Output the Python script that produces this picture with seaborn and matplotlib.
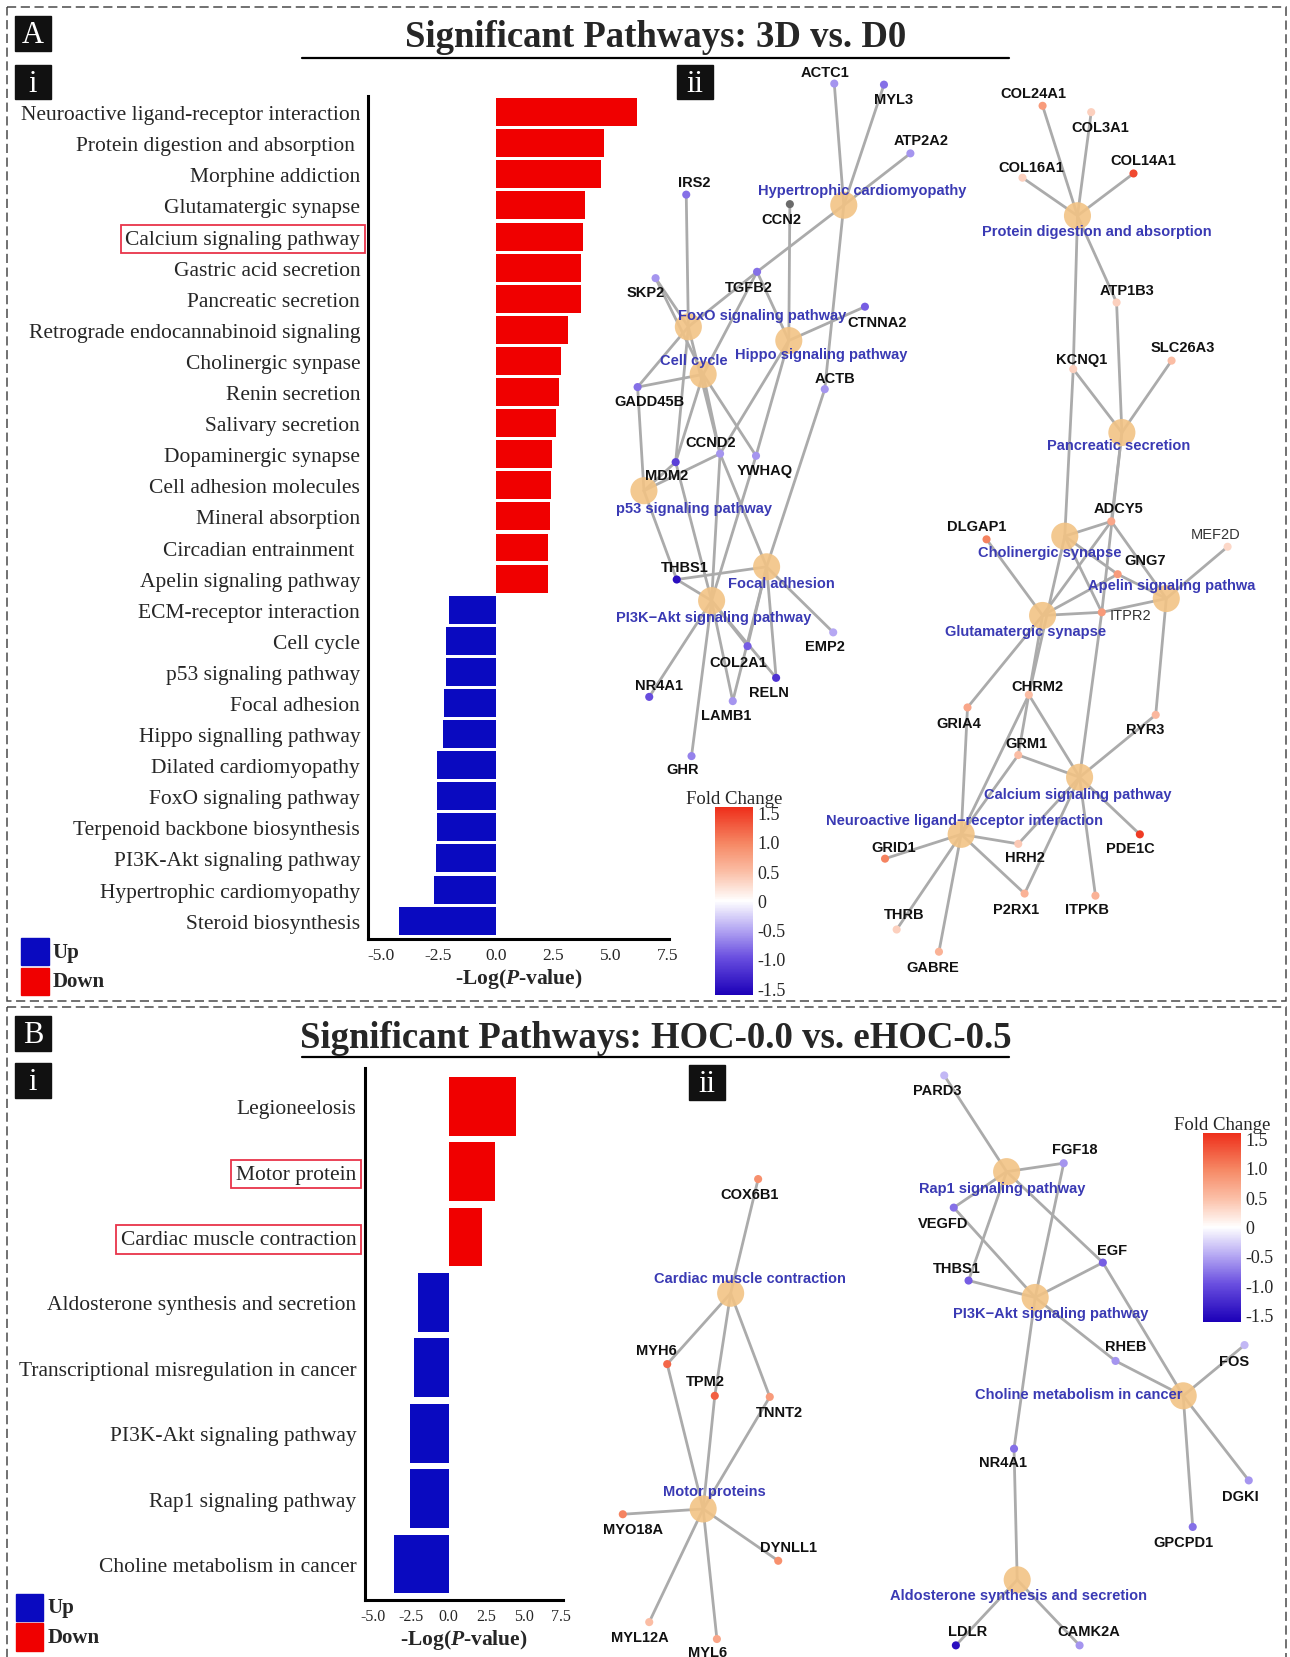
import numpy as np
import pandas as pd
import matplotlib
matplotlib.use("Agg")
import matplotlib.pyplot as plt
from matplotlib.colors import LinearSegmentedColormap, Normalize
from matplotlib.cm import ScalarMappable
from matplotlib.patches import Rectangle
import seaborn as sns

sns.set_style("white")
plt.rcParams["font.family"] = ["Liberation Serif", "DejaVu Serif"]
plt.rcParams["mathtext.fontset"] = "custom"
plt.rcParams["mathtext.rm"] = "Liberation Serif"
plt.rcParams["mathtext.it"] = "Liberation Serif:italic"
plt.rcParams["mathtext.bf"] = "Liberation Serif:bold"
plt.rcParams["mathtext.bfit"] = "Liberation Serif:bold:italic"

SANS = ["Liberation Sans", "DejaVu Sans"]
RED = "#f00000"
BLUE = "#0a0ac0"
NODE_TAN = "#f2c385"
EDGE_GREY = "#ababab"
PATH_BLUE = "#3a3ab4"

# ---------------- panel A: bar data ----------------
A_PATHWAYS = [
    "Neuroactive ligand-receptor interaction", "Protein digestion and absorption ",
    "Morphine addiction", "Glutamatergic synapse", "Calcium signaling pathway",
    "Gastric acid secretion", "Pancreatic secretion", "Retrograde endocannabinoid signaling",
    "Cholinergic synpase", "Renin secretion", "Salivary secretion", "Dopaminergic synapse",
    "Cell adhesion molecules", "Mineral absorption", "Circadian entrainment ",
    "Apelin signaling pathway", "ECM-receptor interaction", "Cell cycle",
    "p53 signaling pathway", "Focal adhesion", "Hippo signalling pathway",
    "Dilated cardiomyopathy", "FoxO signaling pathway", "Terpenoid backbone biosynthesis",
    "PI3K-Akt signaling pathway", "Hypertrophic cardiomyopathy", "Steroid biosynthesis",
]
A_LOGP = [6.15, 4.70, 4.61, 3.90, 3.81, 3.72, 3.72, 3.13, 2.86, 2.77, 2.62, 2.44, 2.41,
          2.37, 2.26, 2.26, -2.06, -2.15, -2.15, -2.26, -2.31, -2.57, -2.57, -2.57,
          -2.60, -2.68, -4.20]
A_DIRECTION = ["Down"] * 16 + ["Up"] * 11
A_BOXED = ["Calcium signaling pathway"]

# ---------------- panel B: bar data ----------------
B_PATHWAYS = [
    "Legioneelosis", "Motor protein", "Cardiac muscle contraction",
    "Aldosterone synthesis and secretion", "Transcriptional misregulation in cancer",
    "PI3K-Akt signaling pathway", "Rap1 signaling pathway", "Choline metabolism in cancer",
]
B_LOGP = [4.53, 3.09, 2.21, -2.04, -2.27, -2.54, -2.60, -3.65]
B_DIRECTION = ["Down"] * 3 + ["Up"] * 5
B_BOXED = ["Motor protein", "Cardiac muscle contraction"]

# ---------------- panel A: network (layout) ----------------
A_PW = ["Hypertrophic cardiomyopathy", "FoxO signaling pathway", "Hippo signaling pathway",
        "Cell cycle", "p53 signaling pathway", "Focal adhesion", "PI3K\u2212Akt signaling pathway",
        "Protein digestion and absorption", "Pancreatic secretion", "Cholinergic synapse",
        "Apelin signaling pathwa", "Glutamatergic synapse", "Calcium signaling pathway",
        "Neuroactive ligand\u2212receptor interaction"]
A_PW_X = [798, 651, 746, 665, 609, 725, 673, 1019, 1061, 1007, 1103, 986, 1021, 909]
A_PW_Y = [195, 310, 323, 355, 465, 537, 569, 205, 410, 508, 567, 583, 736, 790]
A_PW_LX = [815, 721, 777, 656, 656, 739, 675, 1037, 1058, 993, 1108, 970, 1019, 912]
A_PW_LY = [181, 299, 336, 341, 481, 552, 584, 219, 422, 523, 554, 598, 752, 776]

A_GENE = ["ACTC1", "MYL3", "ATP2A2", "IRS2", "CCN2", "TGFB2", "SKP2", "CTNNA2", "ACTB",
          "GADD45B", "CCND2", "MDM2", "YWHAQ", "THBS1", "EMP2", "COL2A1", "RELN", "NR4A1",
          "LAMB1", "GHR",
          "COL24A1", "COL3A1", "COL16A1", "COL14A1", "ATP1B3", "KCNQ1", "SLC26A3", "ADCY5",
          "DLGAP1", "MEF2D", "GNG7", "ITPR2", "CHRM2", "GRIA4", "RYR3", "GRM1", "PDE1C",
          "GRID1", "HRH2", "THRB", "P2RX1", "ITPKB", "GABRE"]
A_GENE_X = [789, 836, 861, 649, 747, 716, 620, 818, 780, 603, 681, 639, 715, 640, 788, 707,
            734, 614, 693, 654,
            986, 1032, 967, 1072, 1056, 1015, 1108, 1051, 933, 1161, 1057, 1042, 973, 915,
            1093, 963, 1078, 837, 963, 848, 969, 1036, 888]
A_GENE_Y = [80, 81, 146, 185, 194, 258, 264, 291, 369, 367, 430, 438, 432, 549, 599, 612,
            642, 660, 664, 716,
            101, 107, 169, 165, 287, 350, 342, 494, 511, 518, 544, 580, 658, 670, 677, 715,
            790, 813, 799, 880, 846, 848, 901]
A_GENE_LX = [780, 845, 871, 657, 739, 708, 611, 830, 790, 614, 672, 630, 723, 648, 780, 698,
             727, 623, 687, 646,
             977, 1041, 975, 1081, 1066, 1023, 1119, 1058, 924, 1150, 1083, 1069, 981, 907,
             1083, 971, 1069, 845, 969, 855, 961, 1028, 882]
A_GENE_LY = [69, 95, 133, 173, 208, 272, 277, 305, 358, 380, 419, 450, 445, 537, 612, 627,
             655, 649, 677, 728,
             89, 121, 159, 152, 275, 340, 329, 481, 498, 506, 531, 583, 650, 685, 690, 704,
             803, 802, 811, 865, 861, 861, 915]
A_GENE_FC = [-0.6, -0.8, -0.6, -0.8, np.nan, -0.8, -0.6, -0.9, -0.6, -0.8, -0.6, -1.1,
             -0.6, -1.5, -0.5, -0.9, -1.2, -1.0, -0.6, -0.7,
             0.8, 0.35, 0.35, 1.4, 0.35, 0.35, 0.5, 0.7, 1.0, 0.3, 0.8, 0.8, 0.5, 0.7,
             0.55, 0.5, 1.5, 1.0, 0.4, 0.35, 0.6, 0.6, 0.6]
A_LINKS = {
    "Hypertrophic cardiomyopathy": ["ACTC1", "MYL3", "ATP2A2", "TGFB2", "ACTB"],
    "FoxO signaling pathway": ["IRS2", "SKP2", "TGFB2", "GADD45B", "CCND2", "MDM2"],
    "Cell cycle": ["SKP2", "GADD45B", "CCND2", "MDM2", "YWHAQ", "TGFB2"],
    "Hippo signaling pathway": ["CCN2", "TGFB2", "CTNNA2", "CCND2", "YWHAQ"],
    "p53 signaling pathway": ["GADD45B", "CCND2", "MDM2", "THBS1"],
    "Focal adhesion": ["ACTB", "THBS1", "CCND2", "COL2A1", "RELN", "LAMB1", "EMP2"],
    "PI3K\u2212Akt signaling pathway": ["THBS1", "CCND2", "COL2A1", "RELN", "LAMB1", "NR4A1",
                                        "GHR", "YWHAQ", "MDM2"],
    "Protein digestion and absorption": ["COL24A1", "COL3A1", "COL16A1", "COL14A1",
                                         "ATP1B3", "KCNQ1"],
    "Pancreatic secretion": ["ATP1B3", "KCNQ1", "SLC26A3", "ADCY5", "ITPR2"],
    "Cholinergic synapse": ["KCNQ1", "ADCY5", "GNG7", "ITPR2", "CHRM2"],
    "Glutamatergic synapse": ["DLGAP1", "ADCY5", "GNG7", "ITPR2", "GRIA4", "GRM1"],
    "Apelin signaling pathwa": ["ADCY5", "GNG7", "ITPR2", "MEF2D", "RYR3"],
    "Calcium signaling pathway": ["ITPR2", "CHRM2", "GRM1", "RYR3", "PDE1C", "HRH2",
                                  "P2RX1", "ITPKB"],
    "Neuroactive ligand\u2212receptor interaction": ["GRIA4", "CHRM2", "GRM1", "GRID1", "HRH2",
                                                     "THRB", "P2RX1", "GABRE"],
}

# ---------------- panel B: network ----------------
B_PW = ["Cardiac muscle contraction", "Motor proteins", "Rap1 signaling pathway",
        "PI3K\u2212Akt signaling pathway", "Choline metabolism in cancer",
        "Aldosterone synthesis and secretion"]
B_PW_X = [691, 665, 952, 979, 1119, 962]
B_PW_Y = [1224, 1428, 1109, 1228, 1321, 1495]
B_PW_LX = [709, 676, 948, 994, 1020, 963]
B_PW_LY = [1210, 1411, 1124, 1243, 1319, 1509]

B_GENE = ["COX6B1", "MYH6", "TPM2", "TNNT2", "MYO18A", "DYNLL1", "MYL12A", "MYL6",
          "PARD3", "FGF18", "VEGFD", "THBS1", "EGF", "RHEB", "FOS", "NR4A1", "DGKI",
          "GPCPD1", "LDLR", "CAMK2A"]
B_GENE_X = [717, 631, 676, 728, 589, 736, 614, 678, 893, 1006, 902, 916, 1043, 1055, 1177,
            959, 1181, 1128, 904, 1021]
B_GENE_Y = [1116, 1291, 1321, 1322, 1433, 1477, 1535, 1551, 1018, 1101, 1143, 1212, 1195,
            1288, 1273, 1371, 1401, 1445, 1557, 1557]
B_GENE_LX = [709, 621, 667, 737, 599, 746, 605, 669, 886, 1016, 892, 905, 1052, 1065, 1167,
             949, 1173, 1119, 915, 1030]
B_GENE_LY = [1130, 1278, 1307, 1336, 1447, 1464, 1549, 1563, 1032, 1088, 1158, 1200, 1183,
             1274, 1288, 1384, 1416, 1459, 1543, 1543]
B_GENE_FC = [0.9, 1.2, 1.25, 0.8, 1.0, 0.9, 0.5, 0.7, -0.4, -0.6, -0.8, -0.9, -0.9, -0.6,
             -0.4, -0.8, -0.6, -0.8, -1.5, -0.6]
B_LINKS = {
    "Cardiac muscle contraction": ["COX6B1", "MYH6", "TPM2", "TNNT2"],
    "Motor proteins": ["MYH6", "TPM2", "TNNT2", "MYO18A", "DYNLL1", "MYL12A", "MYL6"],
    "Rap1 signaling pathway": ["PARD3", "FGF18", "VEGFD", "THBS1", "EGF"],
    "PI3K\u2212Akt signaling pathway": ["FGF18", "VEGFD", "THBS1", "EGF", "RHEB", "NR4A1"],
    "Choline metabolism in cancer": ["EGF", "RHEB", "FOS", "DGKI", "GPCPD1"],
    "Aldosterone synthesis and secretion": ["NR4A1", "LDLR", "CAMK2A"],
}

FC_TICKS = [1.5, 1.0, 0.5, 0, -0.5, -1.0, -1.5]
FC_TICKLABELS = ["1.5", "1.0", "0.5", "0", "-0.5", "-1.0", "-1.5"]
FC_CMAP = LinearSegmentedColormap.from_list(
    "fc", [(0.0, "#1c00b8"), (0.2, "#6a4fe0"), (0.35, "#b5a8f3"), (0.5, "#ffffff"),
           (0.65, "#fbc0a8"), (0.8, "#f68a66"), (1.0, "#ee2e1a")])
FC_NORM = Normalize(-1.62, 1.6)

W, H = 1220, 1568  # picture units used for placing everything


def frac(x0, y0, x1, y1):
    return [x0 / W, 1 - y1 / H, (x1 - x0) / W, (y1 - y0) / H]


fig = plt.figure(figsize=(12.9, 16.58), dpi=100)
canvas = fig.add_axes([0, 0, 1, 1], zorder=0)


def draw_bars(rect, pathways, logp, direction, boxed, xlim, ylim, width, xtick_size):
    ax = fig.add_axes(rect, zorder=2)
    ax.patch.set_alpha(0)
    df = pd.DataFrame({"pathway": pathways, "logp": logp, "direction": direction})
    sns.barplot(data=df, x="logp", y="pathway", hue="direction", order=pathways,
                palette={"Up": BLUE, "Down": RED}, dodge=False, width=width,
                saturation=1, edgecolor="none", legend=False, ax=ax)
    ax.set_xlim(*xlim)
    ax.set_ylim(*ylim)
    ax.set_xticks([-5, -2.5, 0, 2.5, 5, 7.5])
    ax.set_xticklabels(["-5.0", "-2.5", "0.0", "2.5", "5.0", "7.5"], fontsize=xtick_size)
    ax.set_ylabel("")
    ax.set_xlabel(r"-Log($\mathbfit{P}$-value)", fontsize=15.5, fontweight="bold", labelpad=2)
    sns.despine(ax=ax)
    for side in ["left", "bottom"]:
        ax.spines[side].set_linewidth(2.2)
        ax.spines[side].set_color("black")
    ax.tick_params(axis="both", length=4, width=1.5, color="black", pad=2)
    ax.tick_params(axis="y", labelsize=15.5)
    for lab in ax.get_yticklabels():
        if lab.get_text() in boxed:
            lab.set_bbox(dict(boxstyle="square,pad=0.22", fc="none", ec="#e8344a", lw=1.3))
    return ax


draw_bars(frac(348.5, 91.4, 633, 889), A_PATHWAYS, A_LOGP, A_DIRECTION, A_BOXED,
          (-5.55, 7.57), (26.59, -0.53), 0.9, 12.5)
draw_bars(frac(345, 1011, 532, 1514), B_PATHWAYS, B_LOGP, B_DIRECTION, B_BOXED,
          (-5.58, 7.6), (7.55, -0.585), 0.9, 11.5)


def draw_network(ax, pw, pw_x, pw_y, pw_lx, pw_ly, genes, g_x, g_y, g_lx, g_ly, g_fc, links):
    pos = dict(zip(pw, zip(pw_x, pw_y)))
    pos.update(zip(genes, zip(g_x, g_y)))
    for p, members in links.items():
        for g in members:
            (x0, y0), (x1, y1) = pos[p], pos[g]
            ax.plot([x0, x1], [y0, y1], color=EDGE_GREY, lw=2, zorder=1,
                    solid_capstyle="round")
    pw_df = pd.DataFrame({"x": pw_x, "y": pw_y})
    sns.scatterplot(data=pw_df, x="x", y="y", s=380, color=NODE_TAN, alpha=0.9,
                    edgecolor="none", legend=False, ax=ax, zorder=2)
    g_df = pd.DataFrame({"x": g_x, "y": g_y, "fc": g_fc})
    known = g_df.dropna()
    sns.scatterplot(data=known, x="x", y="y", hue="fc", palette=FC_CMAP, hue_norm=FC_NORM,
                    s=34, edgecolor="none", legend=False, ax=ax, zorder=3)
    missing = g_df[g_df["fc"].isna()]
    if len(missing):
        sns.scatterplot(data=missing, x="x", y="y", s=34, color="#6b6b6b",
                        edgecolor="none", legend=False, ax=ax, zorder=3)
    for name, lx, ly in zip(pw, pw_lx, pw_ly):
        ax.text(lx, ly, name, color=PATH_BLUE, fontsize=10.5, fontweight="bold",
                family=SANS, ha="center", va="center", zorder=4)
    plain = {"MEF2D", "ITPR2"}
    for name, lx, ly in zip(genes, g_lx, g_ly):
        ax.text(lx, ly, name, color="#333333" if name in plain else "#111111",
                fontsize=10.5, fontweight="normal" if name in plain else "bold",
                family=SANS, ha="center", va="center", zorder=4)


draw_network(canvas, A_PW, A_PW_X, A_PW_Y, A_PW_LX, A_PW_LY,
             A_GENE, A_GENE_X, A_GENE_Y, A_GENE_LX, A_GENE_LY, A_GENE_FC, A_LINKS)
draw_network(canvas, B_PW, B_PW_X, B_PW_Y, B_PW_LX, B_PW_LY,
             B_GENE, B_GENE_X, B_GENE_Y, B_GENE_LX, B_GENE_LY, B_GENE_FC, B_LINKS)


def draw_colorbar(x0, y0, x1, y1):
    cax = fig.add_axes(frac(x0, y0, x1, y1), zorder=2)
    cb = fig.colorbar(ScalarMappable(norm=FC_NORM, cmap=FC_CMAP), cax=cax)
    cb.outline.set_visible(False)
    cb.set_ticks(FC_TICKS)
    cb.set_ticklabels(FC_TICKLABELS)
    cax.tick_params(direction="in", color="white", length=6, width=1, left=True, right=True,
                    labelsize=13, pad=3)
    cax.set_title("Fold Change", fontsize=13.5, pad=2)


draw_colorbar(676, 764, 712, 942)
draw_colorbar(1138, 1072, 1174, 1251)

# panel frames, titles and tags
canvas.set_xlim(0, W)
canvas.set_ylim(H, 0)
canvas.axis("off")
dash = dict(ls=(0, (6, 3)), color="#4a4a4a", lw=1.1)
canvas.add_patch(Rectangle((7, 8), 1209, 940, fill=False, **dash))
canvas.add_patch(Rectangle((7, 953), 1209, 640, fill=False, **dash))

for title, y_base, y_line in [("Significant Pathways: 3D vs. D0", 44, 56),
                              ("Significant Pathways: HOC-0.0 vs. eHOC-0.5", 991, 1001)]:
    canvas.text(620, y_base, title, fontsize=26.5, fontweight="bold", ha="center",
                va="baseline")
    canvas.plot([286, 954], [y_line, y_line], color="black", lw=1.6)

for tag, x0, y0 in [("A", 14, 16), ("i", 14, 62), ("ii", 640, 62),
                    ("B", 14, 962), ("i", 14, 1006), ("ii", 652, 1008)]:
    canvas.add_patch(Rectangle((x0, y0), 34, 33, color="#111111", zorder=5))
    canvas.text(x0 + 17, y0 + 17.5, tag, color="white", fontsize=22, ha="center",
                va="center", zorder=6)

for y_up, size_sq in [(888, 26), (1508, 26)]:
    x_sq = 20 if y_up < 1000 else 15
    canvas.add_patch(Rectangle((x_sq, y_up), size_sq, size_sq, color=BLUE, zorder=5))
    canvas.add_patch(Rectangle((x_sq, y_up + 28), size_sq, size_sq, color=RED, zorder=5))
    canvas.text(x_sq + 30, y_up + 13, "Up", fontsize=15, fontweight="bold", va="center")
    canvas.text(x_sq + 30, y_up + 41, "Down", fontsize=15, fontweight="bold", va="center")

fig.savefig("out.png", dpi=100, facecolor="white")
